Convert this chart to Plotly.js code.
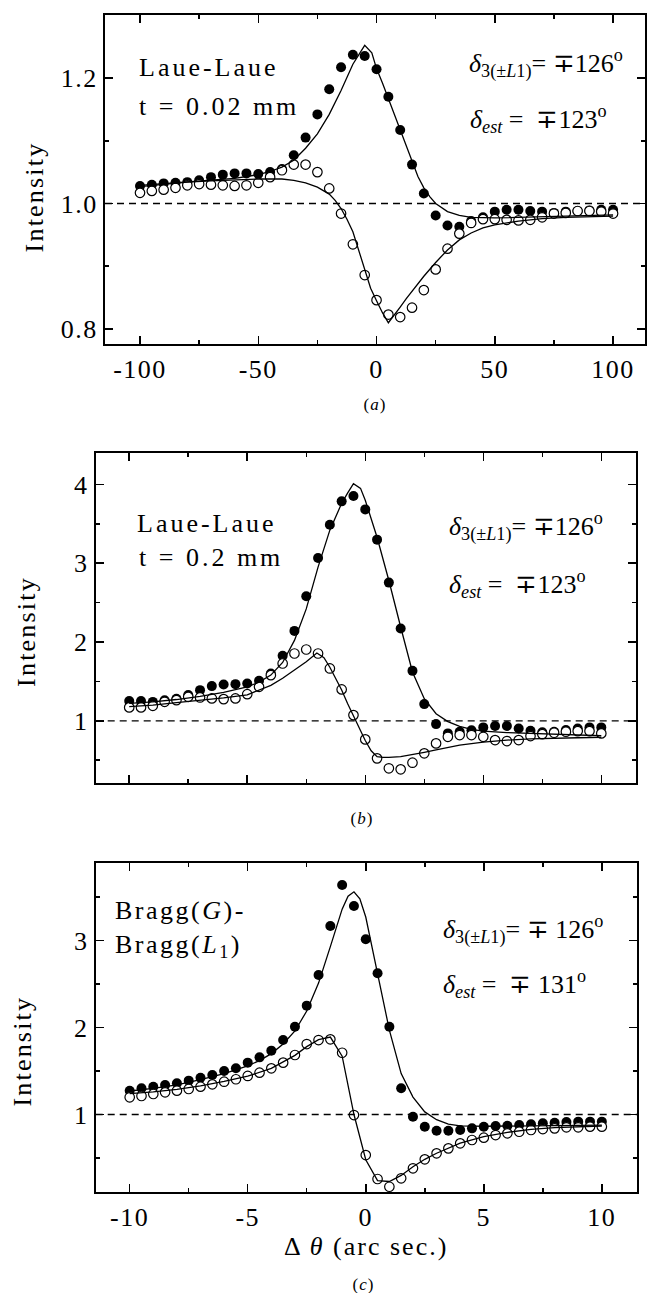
<!DOCTYPE html>
<html>
<head>
<meta charset="utf-8">
<script src="https://cdn.plot.ly/plotly-3.0.1.min.js"></script>
<style>html,body{margin:0;padding:0;background:#fff;}#chart{width:647px;height:1293px;}</style>
</head>
<body>
<div id="chart"></div>
<script>
// ---------------- DATA ----------------
const X_AB = [-100,-95,-90,-85,-80,-75,-70,-65,-60,-55,-50,-45,-40,-35,-30,-25,-20,-15,-10,-5,0,5,10,15,20,25,30,35,40,45,50,55,60,65,70,75,80,85,90,95,100];
const X_C = [-10,-9.5,-9,-8.5,-8,-7.5,-7,-6.5,-6,-5.5,-5,-4.5,-4,-3.5,-3,-2.5,-2,-1.5,-1,-0.5,0,0.5,1,1.5,2,2.5,3,3.5,4,4.5,5,5.5,6,6.5,7,7.5,8,8.5,9,9.5,10];

// Panel (a) Laue-Laue t = 0.02 mm
const A_FILLED = [1.028,1.030,1.032,1.033,1.034,1.037,1.042,1.046,1.048,1.048,1.047,1.050,1.055,1.077,1.105,1.142,1.182,1.217,1.237,1.235,1.214,1.170,1.117,1.062,1.016,0.981,0.965,0.963,0.972,0.978,0.987,0.990,0.990,0.988,0.987,0.985,0.987,0.988,0.989,0.990,0.990];
const A_OPEN = [1.017,1.020,1.022,1.025,1.029,1.031,1.030,1.029,1.028,1.029,1.033,1.042,1.053,1.062,1.062,1.050,1.024,0.984,0.935,0.886,0.846,0.823,0.819,0.834,0.862,0.895,0.928,0.952,0.969,0.975,0.975,0.974,0.973,0.974,0.978,0.984,0.985,0.988,0.988,0.987,0.984];
const A_FIT_FILLED_X = [-100,-90,-80,-70,-60,-55,-50,-45,-40,-35,-30,-25,-20,-15,-10,-7,-5,-2,0,2.5,5,7.5,10,12.5,15,17.5,20,22.5,25,30,35,40,50,60,70,80,90,100];
const A_FIT_FILLED = [1.029,1.032,1.034,1.037,1.040,1.043,1.046,1.051,1.058,1.069,1.088,1.111,1.142,1.180,1.222,1.240,1.252,1.240,1.215,1.192,1.167,1.142,1.117,1.091,1.065,1.043,1.025,1.011,1.000,0.987,0.981,0.978,0.977,0.978,0.979,0.980,0.981,0.982];
const A_FIT_OPEN_X = [-100,-90,-80,-70,-60,-50,-40,-35,-30,-25,-20,-17.5,-15,-12.5,-10,-7.5,-5,-2.5,0,2.5,5,7.5,10,12.5,15,20,25,30,35,40,45,50,60,70,80,90,100];
const A_FIT_OPEN = [1.027,1.031,1.034,1.036,1.038,1.039,1.039,1.037,1.033,1.026,1.015,1.005,0.992,0.975,0.955,0.925,0.892,0.865,0.845,0.826,0.810,0.822,0.835,0.848,0.860,0.884,0.906,0.926,0.942,0.953,0.961,0.966,0.972,0.976,0.978,0.979,0.980];

// Panel (b) Laue-Laue t = 0.2 mm
const B_FILLED = [1.25,1.25,1.24,1.26,1.28,1.326,1.389,1.44,1.461,1.465,1.473,1.507,1.60,1.824,2.141,2.58,3.066,3.489,3.785,3.852,3.683,3.299,2.754,2.171,1.634,1.212,0.958,0.84,0.86,0.88,0.916,0.933,0.933,0.903,0.873,0.853,0.861,0.882,0.903,0.916,0.916];
const B_OPEN = [1.170,1.170,1.190,1.241,1.262,1.304,1.296,1.284,1.275,1.284,1.338,1.431,1.579,1.727,1.854,1.905,1.854,1.664,1.398,1.072,0.764,0.523,0.397,0.384,0.468,0.587,0.713,0.797,0.819,0.819,0.797,0.755,0.743,0.755,0.806,0.831,0.848,0.861,0.869,0.869,0.840];
const B_FIT_FILLED_X = [-100,-90,-80,-70,-60,-50,-45,-40,-35,-30,-25,-20,-15,-10,-7.5,-5,-2,0,5,10,15,20,25,30,35,40,45,50,60,70,80,90,100];
const B_FIT_FILLED = [1.22,1.24,1.27,1.31,1.36,1.43,1.49,1.58,1.74,2.02,2.42,2.95,3.42,3.76,3.89,4.01,3.95,3.80,3.33,2.78,2.19,1.62,1.28,1.09,0.99,0.93,0.89,0.87,0.85,0.84,0.83,0.82,0.81];
const B_FIT_OPEN_X = [-100,-90,-80,-70,-60,-50,-40,-35,-30,-25,-20.5,-17.5,-15,-12.5,-10,-7.5,-5,-2.5,0,2.5,5,7.5,10,15,20,25,30,40,50,60,70,80,90,100];
const B_FIT_OPEN = [1.18,1.20,1.23,1.26,1.29,1.33,1.45,1.54,1.64,1.75,1.86,1.80,1.68,1.54,1.39,1.22,1.06,0.90,0.75,0.62,0.545,0.535,0.535,0.545,0.57,0.60,0.63,0.69,0.73,0.755,0.77,0.78,0.785,0.79];

// Panel (c) Bragg(G)-Bragg(L1)
const C_FILLED = [1.274,1.301,1.320,1.339,1.359,1.389,1.423,1.454,1.500,1.531,1.596,1.657,1.734,1.856,2.009,2.251,2.603,3.167,3.638,3.397,3.014,2.623,2.009,1.301,0.975,0.860,0.814,0.814,0.822,0.841,0.860,0.868,0.871,0.879,0.887,0.899,0.906,0.914,0.918,0.918,0.918];
const C_OPEN = [1.198,1.213,1.236,1.255,1.274,1.293,1.320,1.347,1.377,1.405,1.443,1.481,1.531,1.596,1.684,1.810,1.856,1.864,1.710,0.994,0.534,0.259,0.170,0.267,0.382,0.485,0.554,0.611,0.669,0.707,0.734,0.764,0.784,0.802,0.822,0.833,0.841,0.853,0.853,0.860,0.860];
const C_FIT_FILLED_X = [-10,-9,-8,-7,-6,-5,-4.5,-4,-3.5,-3,-2.5,-2,-1.5,-1,-0.75,-0.5,-0.25,0,0.5,1,1.5,2,2.5,3,3.5,4,5,6,7,8,9,10];
const C_FIT_FILLED = [1.27,1.30,1.34,1.40,1.47,1.56,1.62,1.70,1.81,1.96,2.19,2.51,2.93,3.36,3.51,3.56,3.48,3.27,2.62,1.97,1.47,1.20,1.03,0.94,0.89,0.87,0.865,0.868,0.872,0.875,0.877,0.878];
const C_FIT_OPEN_X = [-10,-9,-8,-7,-6,-5,-4,-3,-2.5,-2,-1.5,-1,-0.5,0,0.5,1,1.5,2,2.5,3,4,5,6,7,8,9,10];
const C_FIT_OPEN = [1.24,1.26,1.29,1.33,1.38,1.44,1.53,1.68,1.78,1.86,1.89,1.67,1.00,0.48,0.24,0.23,0.30,0.40,0.485,0.555,0.67,0.745,0.795,0.83,0.85,0.86,0.868];

const REF_LEVEL = 1;

// tick labels
const AB_XTICKS = [-100,-50,0,50,100];
const AB_XTICKTEXT = ['-100','-50','0','50','100'];
const C_XTICKS = [-10,-5,0,5,10];
const C_XTICKTEXT = ['-10','-5','0','5','10'];
const A_YTICKS = [0.8,1.0,1.2];
const A_YTICKTEXT = ['0.8','1.0','1.2'];
const BC_YTICKS = [1,2,3,4];
const BC_YTICKTEXT = ['1','2','3','4'];

// text
const LABEL_A = ['Laue-Laue','t = 0.02 mm'];
const LABEL_B = ['Laue-Laue','t = 0.2 mm'];
const LABEL_C = ['Bragg(<i>G</i>)-','Bragg(<i>L</i><sub>1</sub>)'];
const DELTA_AB = ['<i>δ</i><sub>3(±<i>L</i>1)</sub>= ∓126<sup>o</sup>','<i>δ</i><sub><i>est</i></sub> = &nbsp;∓123<sup>o</sup>'];
const DELTA_C = ['<i>δ</i><sub>3(±<i>L</i>1)</sub>= ∓ 126<sup>o</sup>','<i>δ</i><sub><i>est</i></sub> = &nbsp;∓ 131<sup>o</sup>'];
const YTITLE = 'Intensity';
const XTITLE = 'Δ <i>θ</i> (arc sec.)';
const PANEL_TAGS = ['(<i>a</i>)','(<i>b</i>)','(<i>c</i>)'];

// ---------------- LAYOUT ----------------
const W = 647, H = 1293;
const FONT = 'Liberation Serif, Times New Roman, serif';
const fx = p => p / W;
const fy = p => 1 - p / H;

function markerTraces(x, filled, open, xa, ya) {
  return [
    {x: x, y: filled, xaxis: xa, yaxis: ya, mode: 'markers', type: 'scatter',
     marker: {symbol: 'circle', size: 10, color: '#000', line: {width: 0}}, hoverinfo: 'skip'},
    {x: x, y: open, xaxis: xa, yaxis: ya, mode: 'markers', type: 'scatter',
     marker: {symbol: 'circle', size: 9.5, color: '#fff', line: {width: 1.2, color: '#000'}}, hoverinfo: 'skip'}
  ];
}
function lineTrace(x, y, xa, ya) {
  return {x: x, y: y, xaxis: xa, yaxis: ya, mode: 'lines', type: 'scatter',
          line: {color: '#000', width: 1.3, shape: 'linear'}, hoverinfo: 'skip'};
}

const data = [].concat(
  markerTraces(X_AB, A_FILLED, A_OPEN, 'x', 'y'),
  [lineTrace(A_FIT_FILLED_X, A_FIT_FILLED, 'x', 'y'), lineTrace(A_FIT_OPEN_X, A_FIT_OPEN, 'x', 'y')],
  markerTraces(X_AB, B_FILLED, B_OPEN, 'x2', 'y2'),
  [lineTrace(B_FIT_FILLED_X, B_FIT_FILLED, 'x2', 'y2'), lineTrace(B_FIT_OPEN_X, B_FIT_OPEN, 'x2', 'y2')],
  markerTraces(X_C, C_FILLED, C_OPEN, 'x3', 'y3'),
  [lineTrace(C_FIT_FILLED_X, C_FIT_FILLED, 'x3', 'y3'), lineTrace(C_FIT_OPEN_X, C_FIT_OPEN, 'x3', 'y3')]
);

const axBase = {
  showline: true, linecolor: '#000', linewidth: 2, mirror: 'ticks',
  ticks: 'inside', ticklen: 8, tickwidth: 1.5, tickcolor: '#000',
  showgrid: false, zeroline: false, fixedrange: true,
  tickfont: {family: FONT, size: 26, color: '#000'}, tickmode: 'array'
};
function minor(d) { return {tickmode: 'linear', tick0: 0, dtick: d, ticks: 'inside', ticklen: 4, tickwidth: 1.5, tickcolor: '#000'}; }

const layout = {
  width: W, height: H, margin: {l: 0, r: 0, t: 0, b: 0},
  paper_bgcolor: '#fff', plot_bgcolor: '#fff', showlegend: false,
  font: {family: FONT, color: '#000', size: 26},
  xaxis: Object.assign({}, axBase, {domain: [fx(105), fx(645)], range: [-114.8, 113.5], anchor: 'y',
    tickvals: AB_XTICKS, ticktext: AB_XTICKTEXT, minor: minor(25)}),
  yaxis: Object.assign({}, axBase, {domain: [fy(344.3), fy(15)], range: [0.7756, 1.3004], anchor: 'x',
    tickvals: A_YTICKS, ticktext: A_YTICKTEXT, minor: minor(0.1)}),
  xaxis2: Object.assign({}, axBase, {domain: [fx(95.7), fx(636)], range: [-114.2, 114.7], anchor: 'y2',
    tickvals: AB_XTICKS, ticktext: AB_XTICKTEXT, showticklabels: false, minor: minor(25)}),
  yaxis2: Object.assign({}, axBase, {domain: [fy(783.3), fy(453.3)], range: [0.2066, 4.395], anchor: 'x2',
    tickvals: BC_YTICKS, ticktext: BC_YTICKTEXT, minor: minor(0.5)}),
  xaxis3: Object.assign({}, axBase, {domain: [fx(95.7), fx(637)], range: [-11.44, 11.49], anchor: 'y3',
    tickvals: C_XTICKS, ticktext: C_XTICKTEXT, minor: minor(2.5)}),
  yaxis3: Object.assign({}, axBase, {domain: [fy(1192.3), fy(862.7)], range: [0.106, 3.894], anchor: 'x3',
    tickvals: BC_YTICKS, ticktext: BC_YTICKTEXT, minor: minor(0.5)}),
  shapes: ['', '2', '3'].map(s => ({
    type: 'line', xref: 'x' + s + ' domain', yref: 'y' + s, x0: 0, x1: 1, y0: REF_LEVEL, y1: REF_LEVEL,
    line: {color: '#000', width: 1.3, dash: '7px,5px'}, layer: 'above'
  })),
  annotations: []
};

const letterSpacing = [];
function ann(text, xpx, ypx, size, opts, ls) {
  layout.annotations.push(Object.assign({
    text: text, xref: 'paper', yref: 'paper', x: fx(xpx), y: fy(ypx),
    xanchor: 'left', yanchor: 'middle', align: 'left', showarrow: false,
    font: {family: FONT, size: size, color: '#000'}
  }, opts || {}));
  letterSpacing.push(ls || 0);
}
const C = {xanchor: 'center', align: 'center'};

// panel a
ann(LABEL_A[0], 137, 67.7, 26, null, 3);
ann(LABEL_A[1], 137, 106, 26, null, 3);
ann(DELTA_AB[0], 467, 64, 26);
ann(DELTA_AB[1], 468, 119, 26);
ann(PANEL_TAGS[0], 375, 405, 17, C, 1);
ann(YTITLE, 34, 197.5, 26, Object.assign({textangle: -90}, C), 2.2);
// panel b
ann(LABEL_B[0], 135, 523.5, 26, null, 3);
ann(LABEL_B[1], 136.7, 557.7, 26, null, 3);
ann(DELTA_AB[0], 446.7, 527, 26);
ann(DELTA_AB[1], 446.7, 584, 26);
ann(PANEL_TAGS[1], 362, 818, 17, C, 1);
ann(YTITLE, 26, 632, 26, Object.assign({textangle: -90}, C), 2.2);
// panel c
ann(LABEL_C[0], 113, 910, 26, null, 2.5);
ann(LABEL_C[1], 113, 946, 26, null, 2.5);
ann(DELTA_C[0], 441.4, 929, 26);
ann(DELTA_C[1], 441.4, 984, 26);
ann(PANEL_TAGS[2], 363, 1284, 17, C, 1);
ann(YTITLE, 21.7, 1051, 26, Object.assign({textangle: -90}, C), 2.2);
ann(XTITLE, 365.6, 1246, 26, C, 2);

Plotly.newPlot('chart', data, layout, {staticPlot: true, displayModeBar: false}).then(function () {
  document.querySelectorAll('.xaxislayer-above text, .yaxislayer-above text').forEach(function (t) {
    t.style.letterSpacing = '1.5px';
  });
  letterSpacing.forEach(function (ls, i) {
    if (!ls) return;
    document.querySelectorAll('g.annotation[data-index="' + i + '"] text').forEach(function (t) {
      t.style.letterSpacing = ls + 'px';
    });
  });
});
</script>
</body>
</html>
